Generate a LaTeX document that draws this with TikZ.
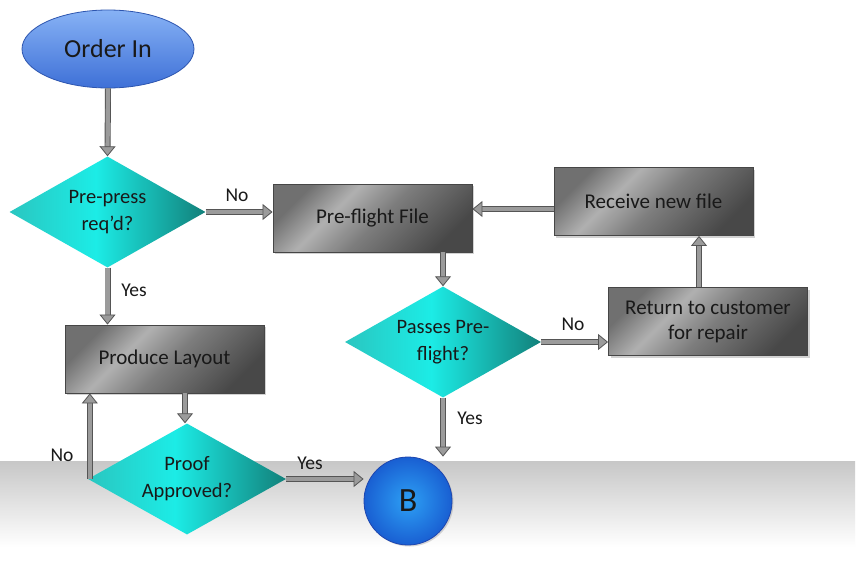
\documentclass[tikz,border=0pt]{standalone}
\usepackage{fontspec}
\setmainfont{Carlito}
\usetikzlibrary{shapes.geometric,arrows.meta,shadows,calc}
\definecolor{tealL}{RGB}{42,198,192}
\definecolor{tealM}{RGB}{28,236,230}
\definecolor{tealR}{RGB}{18,128,122}
\definecolor{mA}{RGB}{112,112,112}
\definecolor{mB}{RGB}{176,176,176}
\definecolor{mC}{RGB}{125,125,125}
\definecolor{mD}{RGB}{72,72,72}
\definecolor{boxline}{RGB}{70,70,70}
\definecolor{ovalT}{RGB}{135,178,245}
\definecolor{ovalB}{RGB}{62,112,215}
\definecolor{ovalLine}{RGB}{45,85,175}
\definecolor{ballIn}{RGB}{45,160,245}
\definecolor{ballOut}{RGB}{25,95,210}
\definecolor{ballLine}{RGB}{30,70,175}
\definecolor{arrowFill}{RGB}{155,155,155}
\definecolor{arrowLine}{RGB}{85,85,85}
\definecolor{txt}{RGB}{25,25,25}
\pgfdeclarehorizontalshading{tealsh}{100bp}{color(0bp)=(tealL); color(25bp)=(tealL); color(47bp)=(tealM); color(75bp)=(tealR); color(100bp)=(tealR)}
\pgfdeclarehorizontalshading{metal}{100bp}{color(0bp)=(mA); color(25bp)=(mA); color(38bp)=(mB); color(52bp)=(mC); color(75bp)=(mD); color(100bp)=(mD)}
\tikzset{
  procbox/.style={rectangle, minimum width=199pt, minimum height=68pt, inner sep=0pt,
    shading=metal, shading angle=-45, draw=boxline, line width=0.9pt, text=txt,
    font=\fontsize{21}{25}\selectfont, align=center,
    drop shadow={shadow xshift=2pt, shadow yshift=-2pt, opacity=.35}},
  decision/.style={diamond, aspect=1.77, minimum width=196pt, minimum height=111pt, inner sep=0pt,
    shading=tealsh, draw=none, text=txt, font=\fontsize{20.5}{27}\selectfont, align=center},
  startoval/.style={ellipse, minimum width=172pt, minimum height=78pt, inner sep=0pt,
    top color=ovalT, bottom color=ovalB, draw=ovalLine, line width=0.8pt, text=txt,
    font=\fontsize{26}{30}\selectfont},
  endball/.style={circle, minimum size=88pt, inner sep=0pt, inner color=ballIn,
    outer color=ballOut, draw=ballLine, line width=0.8pt, text=txt,
    font=\fontsize{34}{38}\selectfont,
    drop shadow={shadow xshift=1.5pt, shadow yshift=-1.5pt, opacity=.3}},
  lbl/.style={text=txt, font=\fontsize{19.5}{22}\selectfont, inner sep=0pt},
  conn/.style={line width=4.2pt, draw=arrowFill,
    -{Triangle[length=10pt, width=16pt, fill=arrowFill, color=arrowLine, line width=0.8pt]},
    preaction={draw=arrowLine, line width=6pt, arrows=-, shorten >=9pt}}
}
\begin{document}
\begin{tikzpicture}[x=1pt,y=-1pt]
\useasboundingbox (0,0) rectangle (856,575);
\fill[white] (0,0) rectangle (856,575);
\shade[top color=black!22, bottom color=white] (0,461) rectangle (855,547);

\node[startoval] (order) at (108,49) {Order In};
\node[decision] (prepress) at (107.5,212) {Pre-press\\req’d?};
\node[procbox] (preflight) at (372.5,218) {Pre-flight File};
\node[procbox] (receive) at (653.5,201.5) {Receive new file};
\node[procbox] (return) at (708,321.5) {Return to customer\\for repair};
\node[decision] (passes) at (443,342) {Passes Pre-\\flight?};
\node[procbox] (layout) at (164.5,359) {Produce Layout};
\node[decision, minimum width=198pt] (proof) at (187,479) {Proof\\Approved?};
\node[endball] (B) at (408,501) {B};

\draw[conn] (order.south) -- (prepress.north);
\draw[conn] (prepress.east) -- (prepress.east -| preflight.west);
\draw[conn] (prepress.south) -- (prepress.south |- layout.north);
\draw[conn] ([xshift=-2pt]proof.north |- layout.south) -- ([xshift=-2pt]proof.north);
\draw[conn] ([xshift=2pt]proof.west) -- ([xshift=2pt]proof.west |- layout.south);
\draw[conn] (proof.east) -- (proof.east -| B.west);
\draw[conn] (passes.north |- preflight.south) -- (passes.north);
\draw[conn] (passes.south) -- (passes.south |- B.north);
\draw[conn] (passes.east) -- (passes.east -| return.west);
\draw[conn] ([xshift=-9pt]return.north) -- ([xshift=-9pt]return.north |- receive.south);
\draw[conn] ([yshift=-7.5pt]receive.west) -- ([yshift=-7.5pt]receive.west -| preflight.east);

\node[lbl] (lno1) at (237,195) {No};
\node[lbl] (lyes1) at (134,290) {Yes};
\node[lbl] (lno2) at (62,455) {No};
\node[lbl] (lyes2) at (310,463) {Yes};
\node[lbl] (lno3) at (573,324) {No};
\node[lbl] (lyes3) at (470,418) {Yes};
\end{tikzpicture}
\end{document}
